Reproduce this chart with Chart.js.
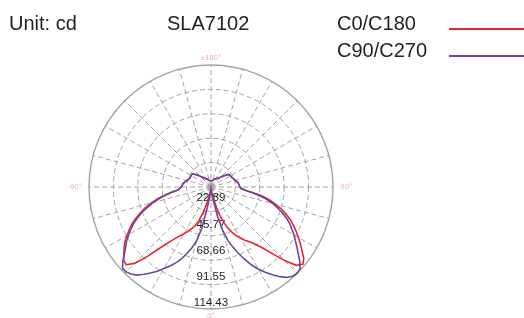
<!DOCTYPE html>
<html>
<head>
<meta charset="utf-8">
<script src="https://cdn.jsdelivr.net/npm/chart.js@4"></script>
<style>
  body { margin: 0; background: #fff; }
  #wrap { position: relative; width: 524px; height: 318px; font-family: "Liberation Sans", Arial, sans-serif; color: #231f20; }
  #wrap canvas { position: absolute; left: 0; top: 0; }
  .txt { position: absolute; font-size: 20px; line-height: 20px; white-space: nowrap; }
  .key { position: absolute; left: 449px; width: 75px; height: 2px; }
</style>
</head>
<body>
<div id="wrap">
  <canvas id="polar" width="524" height="318"></canvas>
  <div class="txt" style="left:9px;top:13px">Unit: cd</div>
  <div class="txt" style="left:167px;top:13px">SLA7102</div>
  <div id="legend"></div>
</div>
<script>
const seriesNames = ["C0/C180", "C90/C270"];
const seriesColors = ["#e8252b", "#6a45a6"];

// rings of the radial scale and their labels
const ringValues = [0, 22.89, 45.77, 68.66, 91.55, 114.43];
const ringLabels = ["", "22.89", "45.77", "68.66", "91.55", "114.43"];

// angle marks round the circle
const markAngles = [180, 90, 0, -90];
const markLabels = ["±180°", "90°", "0°", "-90°"];

// intensity (cd) per half plane, gamma = 0, 2.5, ... 180
const c0 = [1.9, 1.9, 2.8, 4.7, 7.5, 12.2, 19.7, 28.1, 35.6, 42.2,
  46.9, 51.6, 55.3, 59.1, 62.8, 67.5, 74.1, 84.4, 97.6, 108.8,
  112.6, 109.7, 104.1, 99.4, 94.7, 90.0, 85.4, 80.7, 75.0, 69.4,
  62.8, 56.3, 48.8, 39.4, 31.9, 28.1, 27.2, 26.7, 26.3, 25.8,
  25.3, 24.4, 23.5, 23.0, 22.5, 22.0, 21.6, 21.1, 21.1, 20.6,
  20.6, 18.8, 16.9, 15.0, 13.6, 12.2, 11.3, 10.3, 9.8, 9.4,
  8.7, 8.4, 8.0, 7.5, 7.3, 6.9, 6.6, 6.4, 6.1, 5.9,
  5.8, 5.6, 5.6];
const c180 = [1.9, 1.9, 2.8, 4.7, 7.5, 11.3, 17.8, 26.3, 33.8, 39.4,
  43.1, 46.9, 50.7, 54.4, 59.1, 65.7, 75.0, 88.2, 101.3, 107.9,
  106.9, 103.2, 99.4, 95.7, 91.0, 86.3, 81.6, 76.0, 70.4, 64.7,
  58.2, 51.6, 44.1, 36.6, 31.0, 29.1, 28.1, 27.2, 26.7, 26.3,
  25.3, 24.4, 23.5, 22.5, 22.0, 21.6, 21.6, 21.6, 21.6, 21.6,
  21.1, 19.7, 17.8, 15.9, 14.1, 12.7, 11.3, 10.3, 9.8, 9.4,
  8.7, 8.4, 8.0, 7.5, 7.3, 6.9, 6.6, 6.4, 6.1, 5.9,
  5.8, 5.6, 5.6];
const c90 = [1.9, 2.8, 4.7, 7.5, 13.1, 28.1, 42.2, 52.5, 60.0, 67.5,
  75.0, 82.5, 89.1, 94.7, 100.4, 106.0, 110.7, 113.5, 114.4, 113.5,
  108.8, 103.2, 98.5, 93.8, 90.0, 85.4, 81.6, 76.9, 71.3, 65.7,
  60.0, 53.5, 46.0, 37.5, 31.0, 28.1, 27.2, 26.7, 26.3, 25.8,
  25.3, 24.4, 23.5, 23.0, 22.5, 22.0, 21.6, 21.1, 21.1, 20.6,
  20.6, 18.8, 16.9, 15.0, 13.6, 12.2, 11.3, 10.3, 9.8, 9.4,
  8.7, 8.4, 8.0, 7.5, 7.3, 6.9, 6.6, 6.4, 6.1, 5.9,
  5.8, 5.6, 5.6];
const c270 = [1.9, 2.8, 4.7, 8.4, 18.8, 39.4, 52.5, 60.0, 66.6, 73.2,
  78.8, 83.5, 88.2, 93.8, 98.5, 103.2, 107.9, 110.7, 112.6, 112.6,
  107.9, 102.2, 97.6, 93.8, 89.1, 84.4, 79.7, 74.1, 68.5, 61.9,
  56.3, 49.7, 43.1, 36.6, 31.0, 29.1, 28.1, 27.2, 26.7, 26.3,
  25.3, 24.4, 23.5, 22.5, 22.0, 21.6, 21.6, 21.6, 21.6, 21.6,
  21.1, 19.7, 17.8, 15.9, 14.1, 12.7, 11.3, 10.3, 9.8, 9.4,
  8.7, 8.4, 8.0, 7.5, 7.3, 6.9, 6.6, 6.4, 6.1, 5.9,
  5.8, 5.6, 5.6];

const step = 2.5;
const gridColor = "#a3a3a3";

// radar goes clockwise from the top: 180 at top, 90 right, 0 bottom, -90 left
const angles = [];
for (let g = 180; g > -180; g -= step) angles.push(g);

function plane(right, left) {
  return angles.map(g => g >= 0 ? right[Math.round(g / step)] : left[Math.round(-g / step)]);
}

// legend
const legend = document.getElementById("legend");
seriesNames.forEach((name, i) => {
  const t = document.createElement("div");
  t.className = "txt";
  t.style.left = "337px";
  t.style.top = (13 + i * 26.5) + "px";
  t.textContent = name;
  legend.appendChild(t);
  const k = document.createElement("div");
  k.className = "key";
  k.style.top = (28 + i * 26.5) + "px";
  k.style.background = seriesColors[i];
  legend.appendChild(k);
});

const polarText = {
  id: "polarText",
  beforeDatasetsDraw(chart) {
    const r = chart.scales.r;
    const ctx = chart.ctx;
    ctx.save();
    ctx.font = "11.5px 'Liberation Sans', Arial, sans-serif";
    ctx.fillStyle = "#1e1b1c";
    ctx.textAlign = "center";
    ctx.textBaseline = "middle";
    // labels sit a little above their ring, spreading out towards the rim
    ringValues.forEach((v, k) => {
      if (!ringLabels[k]) return;
      const d = r.getDistanceFromCenterForValue(v);
      ctx.fillText(ringLabels[k], r.xCenter, r.yCenter + d * 1.075 - 15);
    });

    ctx.font = "8px 'Liberation Sans', Arial, sans-serif";
    ctx.fillStyle = "#f3b0b0";
    markAngles.forEach((a, k) => {
      const idx = angles.indexOf(a);
      const p = r.getPointPosition(idx, r.drawingArea + 7);
      if (p.x > r.xCenter + 1) ctx.textAlign = "left";
      else if (p.x < r.xCenter - 1) ctx.textAlign = "right";
      else ctx.textAlign = "center";
      ctx.fillText(markLabels[k], p.x, p.y);
    });
    ctx.restore();
  }
};

const lastRing = ringValues.length - 1;

new Chart(document.getElementById("polar"), {
  type: "radar",
  data: {
    labels: angles.map(String),
    datasets: [
      { label: seriesNames[0], data: plane(c0, c180), borderColor: seriesColors[0], order: 1 },
      { label: seriesNames[1], data: plane(c90, c270), borderColor: seriesColors[1], order: 0 },
    ],
  },
  options: {
    responsive: false,
    animation: false,
    layout: { padding: { left: 89, right: 191, top: 65, bottom: 9 } },
    elements: {
      point: { radius: 0 },
      line: { borderWidth: 1.6, tension: 0, fill: false },
    },
    plugins: {
      legend: { display: false },
      tooltip: { enabled: false },
    },
    scales: {
      r: {
        min: 0,
        max: 114.43,
        startAngle: 0,
        afterBuildTicks: scale => {
          scale.ticks = ringValues.map(v => ({ value: v }));
        },
        ticks: { display: false },
        pointLabels: { display: false },
        grid: {
          circular: true,
          color: gridColor,
          lineWidth: ctx => ctx.index === lastRing ? 1.4 : 1,
        },
        border: {
          dash: ctx => ctx.index === lastRing ? [] : [5, 3],
        },
        angleLines: {
          color: gridColor,
          lineWidth: ctx => ctx.index % 6 === 0 ? 1 : 0,
          borderDash: [5, 3],
        },
      },
    },
  },
  plugins: [polarText],
});
</script>
</body>
</html>
